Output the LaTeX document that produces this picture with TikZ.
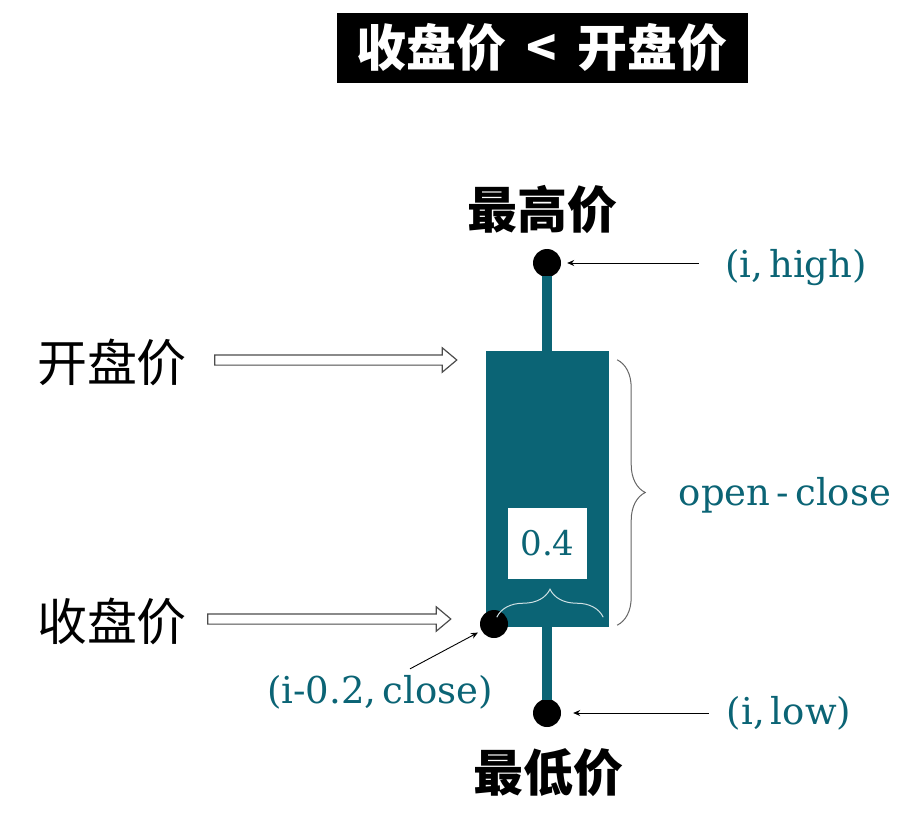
\documentclass[tikz,border=0pt]{standalone}
\usepackage{xcolor}
\usepackage{fontspec}
\usepackage{tikz}
\usetikzlibrary{arrows.meta, shapes, decorations.pathreplacing}
\newfontfamily\cjk{Noto Sans CJK SC}
\newfontfamily\coordfont{DejaVu Serif}
\definecolor{candle}{HTML}{0B6475}

\begin{document}
\begin{tikzpicture}[x=1pt, y=-1pt,
			cnlab/.style = {font=\cjk\fontsize{50}{60}\selectfont, inner sep=0pt},
			coordlab/.style = {font=\coordfont\fontsize{37}{44}\selectfont, text=candle, inner sep=0pt},
			dot/.style = {circle, fill=black, minimum size=28pt, inner sep=0pt},
			wick/.style = {draw=candle, line width=10pt},
			hollow/.style = {single arrow, draw=black!70, fill=white, line width=1.2pt, anchor=tail,
				inner xsep=0pt, inner ysep=4.5pt, minimum width=20pt, single arrow tip angle=80},
			pointer/.style = {draw, line width=0.9pt, -{Stealth[length=7pt, width=6pt]}}]
			\useasboundingbox (0,0) rectangle (924,837);
				\node[fill=black, text=white, minimum width=411pt, minimum height=70pt,
					font=\cjk\bfseries\fontsize{50}{60}\selectfont] (title) at (542,48) {收盘价\hspace{20pt}<\hspace{20pt}开盘价};
				\node[fill=candle, minimum width=123pt, minimum height=276pt, inner sep=0pt] (body) at (547.5,489) {};
				\node[dot] (high) at (547,263) {};
				\node[dot] (low) at (547,713) {};
				\node[dot] (close) at (494,624) {};
				\path[draw, wick, shorten <=13.5pt] (high.center) -- (high |- body.north);
				\path[draw, wick, shorten >=13.5pt] (low |- body.south) -- (low.center);
				\node[cnlab, font=\cjk\bfseries\fontsize{50}{60}\selectfont] (hightxt) at (542,210) {最高价};
				\node[cnlab, font=\cjk\bfseries\fontsize{50}{60}\selectfont] (lowtxt) at (548,773) {最低价};
				\node[cnlab] (opentxt) at (112,362) {开盘价};
				\node[cnlab] (closetxt) at (112,621) {收盘价};
				\node[hollow, minimum height=242pt] (openarrow) at ([xshift=27pt, yshift=2pt]opentxt.east) {};
				\node[hollow, minimum height=243pt] (closearrow) at ([xshift=20pt, yshift=2pt]closetxt.east) {};
				\node[coordlab] (highlab) at (796,268) {(i,\,high)};
				\node[coordlab] (lowlab) at (789,713) {(i,\,low)};
				\node[coordlab] (closelab) at (380,692) {(i-0.2,\,close)};
				\node[coordlab] (difflab) at (785,495) {open\,-\,close};
				\node[fill=white, minimum width=79pt, minimum height=71pt, inner sep=0pt,
					font=\coordfont\fontsize{34}{40}\selectfont, text=candle] (width) at (547.5,543.5) {0.4};
				\path[draw, pointer, shorten >=6pt] ([xshift=-26pt]high -| highlab.west) -- (high.east);
				\path[draw, pointer, shorten >=12pt] ([xshift=-18pt]low -| lowlab.west) -- (low.east);
				\path[draw, pointer, shorten >=4pt] ([xshift=30pt, yshift=6pt]closelab.north) -- (close);
				\path[draw=black!60, line width=1pt, decorate, decoration={brace, amplitude=28pt}]
					([xshift=8pt, yshift=-9pt]body.north east) -- ([xshift=8pt, yshift=2pt]body.south east);
				\path[draw=white!80!candle, line width=1pt, decorate, decoration={brace, amplitude=28pt}]
					([xshift=11pt, yshift=10pt]body.south west) -- ([xshift=-6pt, yshift=10pt]body.south east);
		\end{tikzpicture}
\end{document}
